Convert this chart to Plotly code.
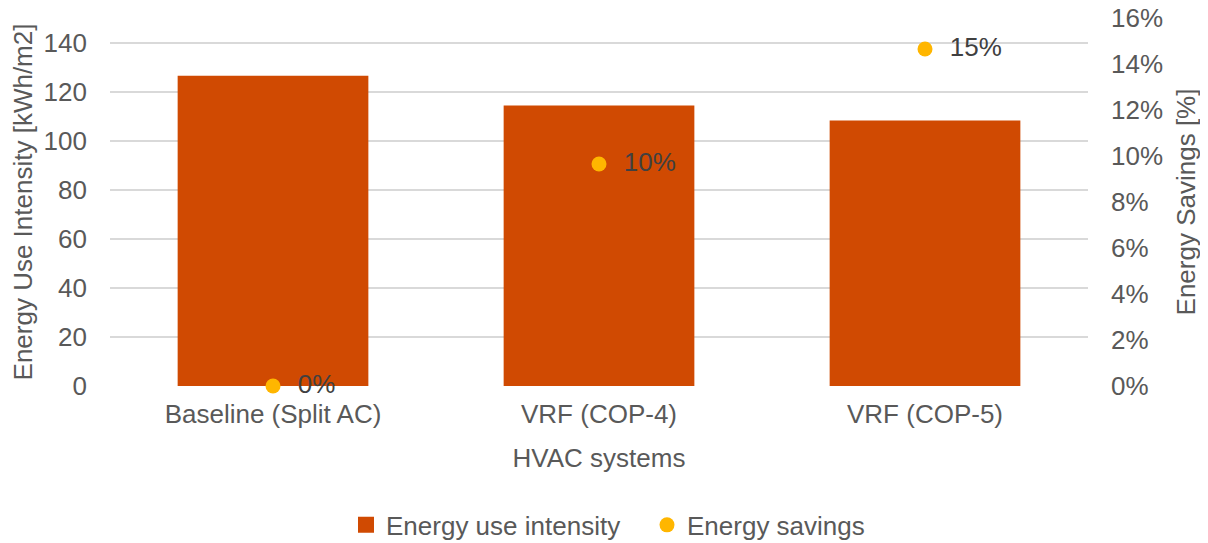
import plotly.graph_objects as go

categories = ["Baseline (Split AC)", "VRF (COP-4)", "VRF (COP-5)"]
eui_values = [126.5, 114.3, 108.2]
savings_values = [0.0, 0.0965, 0.1465]
savings_labels = ["0%", "10%", "15%"]

font_family = "Liberation Sans, Arial, sans-serif"
grey = "#595959"
FS = 26

fig = go.Figure()
fig.add_trace(go.Bar(
    x=categories, y=eui_values, name="Energy use intensity",
    marker=dict(color="#D04A02", line=dict(width=0)), width=0.585,
    yaxis="y", showlegend=False,
))
# legend entry for bars (larger square swatch)
fig.add_trace(go.Scatter(
    x=[None], y=[None], name="Energy use intensity", mode="markers",
    marker=dict(color="#D04A02", size=20, symbol="square"),
    showlegend=True,
))
fig.add_trace(go.Scatter(
    x=categories, y=savings_values, name="Energy savings",
    mode="markers+text", text=savings_labels, texttemplate="  %{text}",
    textposition="middle right",
    textfont=dict(size=FS, color="#404040", family=font_family),
    marker=dict(color="#FFB600", size=15),
    yaxis="y2", cliponaxis=False,
))

fig.update_layout(
    width=1208, height=543,
    margin=dict(l=102, r=128, t=10, b=165, autoexpand=False),
    plot_bgcolor="white", paper_bgcolor="white",
    font=dict(family=font_family, size=FS, color=grey),
    xaxis=dict(
        title=dict(text="HVAC systems", font=dict(size=FS, color=grey), standoff=20),
        tickfont=dict(size=FS, color=grey), showgrid=False, showline=False,
        ticks="", ticklen=0, automargin=False, ticklabelstandoff=10,
    ),
    yaxis=dict(
        title=dict(text="Energy Use Intensity [kWh/m2]", font=dict(size=FS, color=grey), standoff=4),
        range=[0, 150], dtick=20, tick0=0, tickfont=dict(size=FS, color=grey),
        showgrid=True, gridcolor="#D9D9D9", gridwidth=1.5, zeroline=False,
        showline=False, ticks="", ticklabelstandoff=22, automargin=False,
        ticklabeloverflow="allow",
    ),
    yaxis2=dict(
        title=dict(text="Energy Savings [%]", font=dict(size=FS, color=grey), standoff=14),
        range=[0, 0.16], dtick=0.02, tick0=0, tickformat=".0%",
        overlaying="y", side="right", showgrid=False, zeroline=False,
        tickfont=dict(size=FS, color=grey), showline=False, ticks="",
        ticklabelstandoff=22, automargin=False, ticklabeloverflow="allow",
    ),
    legend=dict(
        orientation="h", x=0.2798, xanchor="left", xref="container",
        y=0.048, yanchor="middle", yref="container",
        font=dict(size=FS, color=grey), itemwidth=30, itemsizing="trace",
        tracegroupgap=0, entrywidth=256, entrywidthmode="pixels",
    ),
    showlegend=True,
)

fig.write_html("out.html")
